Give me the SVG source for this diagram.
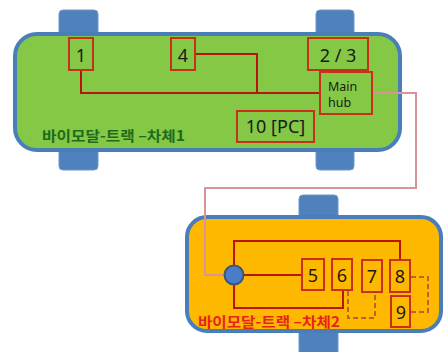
<svg xmlns="http://www.w3.org/2000/svg" width="444" height="352" viewBox="0 0 444 352">
<style>
.wheel{fill:#4f81bd;stroke:#6f97c8;stroke-width:1}
.body{stroke:#4a7ebb;stroke-width:4}
.box{fill:none;stroke:#c8301e;stroke-width:2}
.num{font-family:"Noto Sans","Open Sans",sans-serif;font-size:18px;fill:#1a1a1a}
.hub{font-family:"Noto Sans","Open Sans",sans-serif;font-size:12.5px;fill:#1a1a1a}
.wire{fill:none;stroke:#b8160c;stroke-width:2}
.dash{fill:none;stroke:#b4642c;stroke-width:2;stroke-dasharray:5 3}
.link{fill:none;stroke:#d8949a;stroke-width:2}
.lbl{font-family:"Noto Sans CJK KR","Noto Sans",sans-serif;font-size:14px;font-weight:bold}
</style>
<rect width="444" height="352" fill="#ffffff"/>
<g id="vehicle1">
<rect class="wheel" x="59" y="10" width="39" height="26" rx="4"/>
<rect class="wheel" x="316" y="10" width="38" height="26" rx="4"/>
<rect class="wheel" x="59" y="146" width="39" height="24" rx="4"/>
<rect class="wheel" x="316" y="146" width="38" height="24" rx="4"/>
<rect class="body" x="15" y="34" width="385" height="116" rx="22" fill="#84c845"/>
<text class="lbl" x="42" y="141" fill="#1e6b1e" textLength="143" lengthAdjust="spacingAndGlyphs">바이모달-트랙 –차체1</text>
</g>
<g id="vehicle2">
<rect class="wheel" x="299" y="195" width="39" height="24" rx="4"/>
<rect class="wheel" x="299" y="329" width="39" height="26" rx="4"/>
<rect class="body" x="187" y="217" width="254" height="114" rx="20" fill="#ffb800"/>
<text class="lbl" x="198" y="327" fill="#e8231c" textLength="142" lengthAdjust="spacingAndGlyphs">바이모달-트랙 –차체2</text>
</g>
<g id="connectors">
<path class="wire" d="M81,70 V93 H320"/>
<path class="wire" d="M195,54 H257 V93"/>
<path class="link" d="M372,93 H416 V188 H205 V275 H225"/>
<path class="wire" d="M234,266 V241 H400 V260"/>
<path class="wire" d="M243,275 H302"/>
<path class="wire" d="M234,285 V308 H343 V290"/>
<path class="dash" d="M348,291 V318 H375 V293"/>
<path class="dash" d="M411,277 H428 V312 H411"/>
</g>
<g id="n1"><rect class="box" x="69" y="38" width="24" height="32"/><text class="num" x="81" y="62" text-anchor="middle">1</text></g>
<g id="n4"><rect class="box" x="171" y="38" width="24" height="32"/><text class="num" x="183" y="62" text-anchor="middle">4</text></g>
<g id="n23"><rect class="box" x="308" y="38" width="60" height="32"/><text class="num" x="338" y="62" text-anchor="middle">2 / 3</text></g>
<g id="hub"><rect class="box" x="320" y="72" width="52" height="42"/><text class="hub" x="328" y="91">Main</text><text class="hub" x="328" y="107">hub</text></g>
<g id="n10"><rect class="box" x="237" y="111" width="77" height="31"/><text class="num" x="275.5" y="133" text-anchor="middle">10 [PC]</text></g>
<g id="node-circle"><circle cx="234" cy="275" r="9.5" fill="#4a7cc8" stroke="#3d5676" stroke-width="2"/></g>
<g id="n5"><rect class="box" x="302" y="259" width="22" height="31"/><text class="num" x="313" y="282" text-anchor="middle">5</text></g>
<g id="n6"><rect class="box" x="332" y="259" width="20" height="31"/><text class="num" x="342" y="282" text-anchor="middle">6</text></g>
<g id="n7"><rect class="box" x="362" y="260" width="20" height="32"/><text class="num" x="372" y="283" text-anchor="middle">7</text></g>
<g id="n8"><rect class="box" x="390" y="260" width="20" height="32"/><text class="num" x="400" y="283" text-anchor="middle">8</text></g>
<g id="n9"><rect class="box" x="391" y="296" width="19" height="31"/><text class="num" x="401" y="319" text-anchor="middle">9</text></g>
</svg>
